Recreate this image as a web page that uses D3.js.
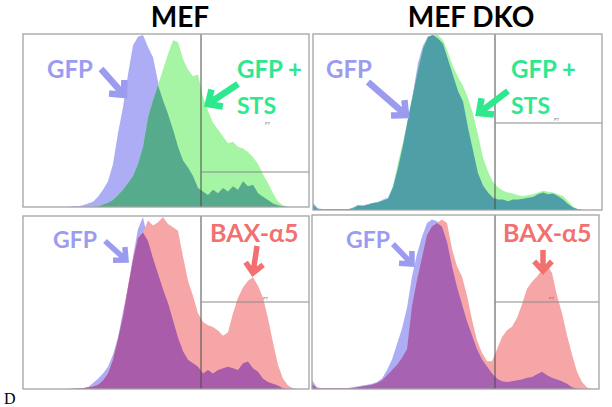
<!DOCTYPE html>
<html><head><meta charset="utf-8">
<script src="https://cdn.jsdelivr.net/npm/d3@7"></script>
<style>body{margin:0;background:#fff}svg{display:block}</style>
</head><body>
<script>
// ---- data (bin counts as % of panel max, 58 bins per panel) ----
const titles = ["MEF", "MEF DKO"];
const mefGfp = [0,0,0,0,0,0,0,0,0,0,0.5,0.5,1,2,3,6,10,15,25,43,58,77,94,99,100,93,87,73,62,54,45,35,27,23,18,11,9,7,10,8,11,9,12,10,15,12,13,8,6,4,2,1,0.5,0,0,0,0,0];
const mefGfpSts = [0,0,0,0,0,0,0,0,0,0,0,0,0,0,0,0.5,1.5,2.5,4,7,10,14,18,25,35,52,62,71,80,89,97,96,86,80,76,77,64,56,49,45,41,37,38,35,34,32,29,25,19,14,8,3,1,0,0,0,0,0];
const dkoGfp = [4,1,0.5,0.5,0.5,0.5,0.5,0.5,1.5,3,2.5,3.5,4,4.5,6,7,13,24,37,52,67,84,94,99,100,98,95,86,77,68,62,47,34,21,14,10,7,6,6,5,6,6,6.5,7,7.5,9,10,9,9.5,8,6,3.5,1.5,0.5,0,0,0,0];
const dkoGfpSts = [3,0.5,0.5,0.5,0.5,0.5,0.5,0.5,1,2.5,2.5,3,4,4.5,5.5,6.5,14,27,39,52,66,80,92,99,100,100,97,90,82,76,71,64,55,43,30,22,16,13,11,10,9.5,8.5,8,8.5,9,10,11,10.5,10,9,8,5,2,0.5,0,0,0,0];
const mefGfp2 = [0,0,0,0,0,0,0,0,0,0,0.5,0.5,0.5,1,3.5,6,9,13,20,30,45,59,77,93,100,86,76,67,58,50,40,30,22,17,15,13,9,11,9,11,12,13,12,11,15,16,12,10,6,4,3,2,0.5,0,0,0,0,0];
const mefBax = [0,0,0,0,0,0,0,0,0,0,0,0.3,0.6,1,1.5,2.5,5,9,17,29,42,60,75,88,91,98,95,97,100,96,94,92,77,63,54,44,39,37,36,34,31,33,44,53,59,63,65,60,53,41,27,14,6,2,0.5,0,0,0];
const dkoGfp2 = [5,1,0.5,0.5,0.5,0.5,0.5,0.5,1,1.5,2,2.5,3,4,6,11,17,26,35,47,65,78,88,96,98,97,94,85,71,59,49,39,31,23,17,13,9,6,4.5,4,4.5,5,5.5,6.5,7,8.5,10,8,6.5,5.5,4.5,3,1,0.3,0,0,0,0];
const dkoBax = [3,0.5,0.3,0.3,0.3,0.3,0.3,0.3,0.5,1,1.5,2,2.5,3.5,5,8,11,14,18,23,48,63,76,89,94,96,98,96,81,71,65,54,40,28,21,16,16,23,30,34,36,41,49,58,62,65,69,72,67,54,44,31,20,10,4,0.8,0,0];
const labelsTop = ["GFP", "GFP +", "STS"];
const labelsBottom = ["GFP", "BAX-\u03b15"];
const gateLabel = "P7";

// ---- layout ----
const svg = d3.select("body").append("svg").attr("width", 612).attr("height", 407);
const LAV = "#adadf5", GRN = "#a5f5a5", PNK = "#f6a6a6";
const BLUE_T = "#9b9bf0", GREEN_T = "#2ee88e", RED_T = "#f27070";

const panels = [
  {x0:23, x1:309, top:34, bot:207, a:mefGfp, b:mefGfpSts, cb:GRN, cab:"#56ab8d", gx:201, gy:172, p7:[265,125]},
  {x0:313, x1:602, top:34, bot:210, a:dkoGfp, b:dkoGfpSts, cb:GRN, cab:"#4f9fa6", gx:495, gy:123, p7:[554,121]},
  {x0:23, x1:309, top:216, bot:389, a:mefGfp2, b:mefBax, cb:PNK, cab:"#a95ca9", gx:201, gy:302, p7:[263,300]},
  {x0:312, x1:599, top:215, bot:389, a:dkoGfp2, b:dkoBax, cb:PNK, cab:"#a862b2", gx:495, gy:302, p7:[549,300]}
];

panels.forEach((p, k) => {
  const n = p.a.length;
  const x = d3.scaleLinear().domain([0, n - 1]).range([p.x0, p.x0 + 5 * (n - 1)]);
  const y = d3.scaleLinear().domain([0, 100]).range([p.bot, p.top + 1]);
  const ov = p.a.map((v, i) => Math.min(v, p.b[i]));
  const area = d3.area().x((d, i) => x(i)).y0(p.bot).y1(d => y(d));
  const g = svg.append("g");
  g.append("path").attr("d", area(p.a)).attr("fill", LAV);
  g.append("path").attr("d", area(p.b)).attr("fill", p.cb);
  g.append("path").attr("d", area(ov)).attr("fill", p.cab);
  g.append("line").attr("x1", p.gx).attr("x2", p.gx).attr("y1", p.top).attr("y2", p.bot)
    .attr("stroke", "#4a4a4a").attr("stroke-width", 1);
  g.append("line").attr("x1", p.gx).attr("x2", p.x1).attr("y1", p.gy).attr("y2", p.gy)
    .attr("stroke", "#8a8a8a").attr("stroke-width", 1);
  g.append("text").attr("x", p.p7[0]).attr("y", p.p7[1]).text(gateLabel)
    .attr("font-size", 4).attr("fill", "#777").attr("font-family", "DejaVu Sans");
  g.append("rect").attr("x", p.x0).attr("y", p.top).attr("width", p.x1 - p.x0).attr("height", p.bot - p.top)
    .attr("fill", "none").attr("stroke", "#a3a3a3").attr("stroke-width", 1.3);
});

const F = "Lato, 'Open Sans', sans-serif";
[[180, titles[0]], [471, titles[1]]].forEach(([cx, t]) => {
  svg.append("text").attr("x", cx).attr("y", 27).attr("text-anchor", "middle")
    .attr("font-family", F).attr("font-weight", 700).attr("font-size", 28).attr("fill", "#000").text(t);
});

function label(x, y, t, c, size) {
  svg.append("text").attr("x", x).attr("y", y).text(t).attr("font-family", F)
    .attr("font-weight", 700).attr("font-size", size || 24).attr("fill", c);
}
label(47, 78, labelsTop[0], BLUE_T);
label(237, 78, labelsTop[1], GREEN_T);
label(237, 114, labelsTop[2], GREEN_T, 23);
label(326, 78, labelsTop[0], BLUE_T);
label(511, 78, labelsTop[1], GREEN_T);
label(511, 114, labelsTop[2], GREEN_T, 23);
label(53, 248, labelsBottom[0], BLUE_T, 23);
label(210, 242, labelsBottom[1], RED_T, 25);
label(346, 248, labelsBottom[0], BLUE_T, 23);
label(503, 242, labelsBottom[1], RED_T, 25);

function arrow(x1, y1, x2, y2, c, w, hl) {
  const ang = Math.atan2(y2 - y1, x2 - x1);
  const a1 = ang + Math.PI - 0.75, a2 = ang + Math.PI + 0.75;
  const p = d3.path();
  p.moveTo(x1, y1); p.lineTo(x2, y2);
  p.moveTo(x2 + hl * Math.cos(a1), y2 + hl * Math.sin(a1)); p.lineTo(x2, y2);
  p.lineTo(x2 + hl * Math.cos(a2), y2 + hl * Math.sin(a2));
  svg.append("path").attr("d", p.toString()).attr("fill", "none").attr("stroke", c)
    .attr("stroke-width", w).attr("stroke-linejoin", "miter").attr("stroke-linecap", "butt");
}
arrow(101, 69, 124, 95, BLUE_T, 6.5, 15);
arrow(238, 84, 208, 104, GREEN_T, 6.5, 15);
arrow(368, 82, 406, 115, BLUE_T, 6.5, 15);
arrow(508, 91, 479, 113, GREEN_T, 6.5, 15);
arrow(105, 241, 126, 260, BLUE_T, 5.5, 13);
arrow(257, 246, 253, 273, RED_T, 5.5, 13);
arrow(393, 244, 412, 264, BLUE_T, 5.5, 13);
arrow(543, 250, 543, 271, RED_T, 5.5, 13);

svg.append("text").attr("x", 4).attr("y", 404).text("D").attr("font-family", "'Liberation Serif', serif")
  .attr("font-size", 16).attr("fill", "#000");
</script>
</body></html>
